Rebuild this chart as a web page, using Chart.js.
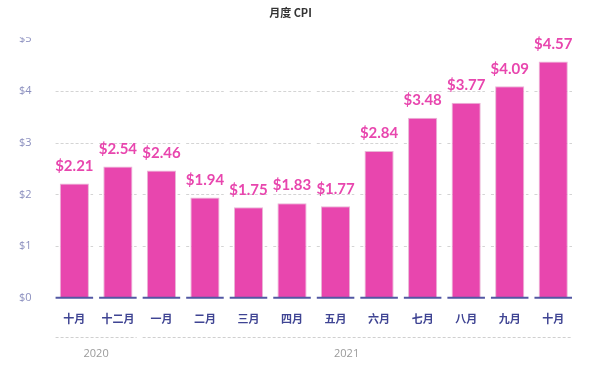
<!DOCTYPE html>
<html><head><meta charset="utf-8">
<script src="https://cdn.jsdelivr.net/npm/chart.js@4/dist/chart.umd.min.js"></script>
<style>html,body{margin:0;padding:0;background:#fff}#wrap{width:600px;height:369px}</style>
</head><body><div id="wrap"><canvas id="c"></canvas></div>
<script>
const categories = ['十月','十二月','一月','二月','三月','四月','五月','六月','七月','八月','九月','十月'];
const cpiValues = [2.21, 2.54, 2.46, 1.94, 1.75, 1.83, 1.77, 2.84, 3.48, 3.77, 4.09, 4.57];
const yearGroups = [
  {label:'2020', from:0, to:1},
  {label:'2021', from:2, to:11}
];
const yTicks = [0,1,2,3,4,5];

const PINK = '#E846AE';
const segPlugin = {
  id:'segGrid',
  beforeDatasetsDraw(chart){
    const {ctx, scales:{x,y}} = chart;
    const half = (x.getPixelForValue(1)-x.getPixelForValue(0))/2;
    ctx.save();
    ctx.strokeStyle = '#d4d4d4';
    ctx.lineWidth = 1;
    ctx.setLineDash([3,2]);
    yTicks.forEach(v=>{
      if(v===0 || v===5) return;
      const py = Math.round(y.getPixelForValue(v))+0.5;
      categories.forEach((c,i)=>{
        const cx = x.getPixelForValue(i);
        ctx.beginPath(); ctx.moveTo(cx-half+3, py); ctx.lineTo(cx+half-3, py); ctx.stroke();
      });
    });
    ctx.restore();
  },
  afterDatasetsDraw(chart){
    const {ctx, scales:{x,y}} = chart;
    const half = (x.getPixelForValue(1)-x.getPixelForValue(0))/2;
    ctx.save();
    ctx.strokeStyle = '#5257a3';
    ctx.lineWidth = 2;
    const py = y.getPixelForValue(0);
    categories.forEach((c,i)=>{
      const cx = x.getPixelForValue(i);
      ctx.beginPath(); ctx.moveTo(cx-half+3, py); ctx.lineTo(cx+half-3, py); ctx.stroke();
    });
    // value labels
    ctx.fillStyle = PINK;
    ctx.font = 'bold 15px "Lato", "Noto Sans", sans-serif';
    ctx.textAlign = 'center';
    ctx.textBaseline = 'bottom';
    const meta = chart.getDatasetMeta(0);
    meta.data.forEach((bar,i)=>{
      ctx.fillText('$'+cpiValues[i].toFixed(2), bar.x, bar.y-10);
    });
    ctx.restore();
  },
  afterDraw(chart){
    const {ctx, scales:{x,y}} = chart;
    const half = (x.getPixelForValue(1)-x.getPixelForValue(0))/2;
    ctx.save();
    const ly = Math.round(y.bottom) + 39.5;
    yearGroups.forEach(g=>{
      const x0 = x.getPixelForValue(g.from)-half+3;
      const x1 = x.getPixelForValue(g.to)+half-3;
      ctx.strokeStyle = '#d0d0d0'; ctx.lineWidth = 1; ctx.setLineDash([3,2]);
      ctx.beginPath(); ctx.moveTo(x0, ly); ctx.lineTo(x1, ly); ctx.stroke();
      ctx.fillStyle = '#9a9a9a';
      ctx.font = '11px "Open Sans", "Noto Sans", sans-serif';
      ctx.textAlign = 'center'; ctx.textBaseline = 'middle';
      const cx = g.label==='2020' ? (x0+x1)/2 : x0 + (x1-x0)*0.475;
      ctx.fillText(g.label, cx, ly+16);
    });
    // clip top of $5 label like reference
    ctx.fillStyle = '#fff';
    ctx.fillRect(0, 26, 50, y.top-2-26);
    ctx.restore();
  }
};

new Chart(document.getElementById('c'), {
  type:'bar',
  data:{labels:categories, datasets:[{data:cpiValues, backgroundColor:PINK, borderColor:'#e9b6d6', borderWidth:1, borderSkipped:'bottom', barPercentage:0.67, categoryPercentage:1}]},
  options:{
    responsive:true, maintainAspectRatio:false, animation:false,
    layout:{padding:{left:6, right:25, top:0, bottom:38}},
    plugins:{
      legend:{display:false}, tooltip:{enabled:false},
      title:{display:true, text:'月度 CPI', color:'#333', font:{family:'"Noto Sans CJK SC", sans-serif', size:11, weight:'bold'}, padding:{top:6, bottom:20}}
    },
    scales:{
      x:{grid:{display:false}, border:{display:false}, ticks:{color:'#3f4493', padding:6, font:{family:'"Noto Sans CJK SC", sans-serif', size:11, weight:'bold'}}},
      y:{min:0, max:5, grid:{display:false}, border:{display:false},
         afterBuildTicks(s){ s.ticks = yTicks.map(v=>({value:v})); },
         ticks:{color:'#8b8fbf', padding:13, font:{family:'"Open Sans", sans-serif', size:11}, callback:v=>'$'+v}}
    }
  },
  plugins:[segPlugin]
});
</script></body></html>
